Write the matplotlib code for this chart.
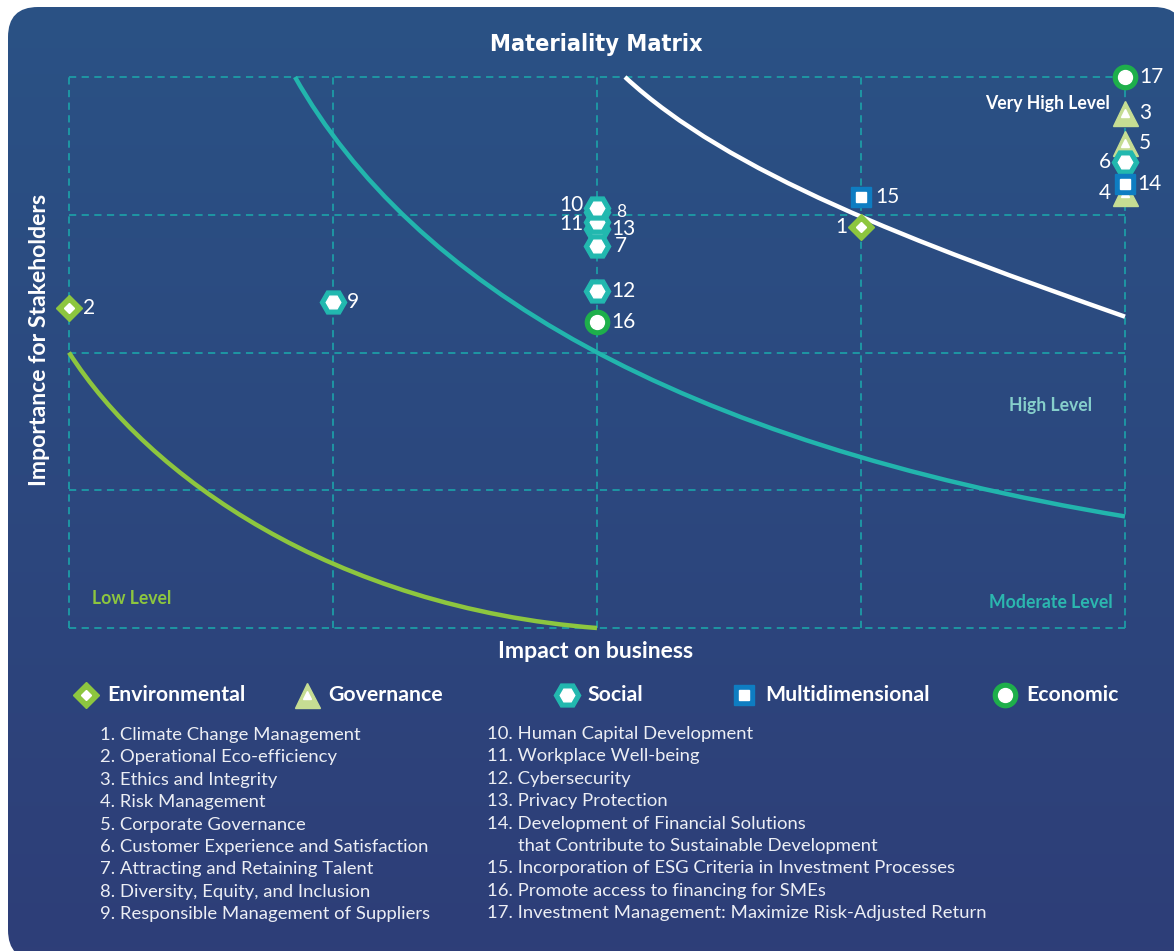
import numpy as np
import matplotlib
matplotlib.use('Agg')
import matplotlib.pyplot as plt
from matplotlib.patches import FancyBboxPatch, PathPatch
from matplotlib.path import Path

plt.rcParams['font.family'] = ['Lato', 'DejaVu Sans']

# material topics: impact on business (x) vs importance for stakeholders (y)
topic_ids = list(range(1, 18))
impact = [3, 0, 4, 4, 4, 4, 2, 2, 1, 2, 2, 2, 2, 4, 3, 2, 4]
importance = [2.91, 2.32, 3.74, 3.16, 3.52, 3.38, 2.77, 3.02, 2.37,
              3.05, 2.95, 2.45, 2.90, 3.22, 3.13, 2.22, 4.00]
category = ['Environmental', 'Environmental', 'Governance', 'Governance',
            'Governance', 'Social', 'Social', 'Social', 'Social', 'Social',
            'Social', 'Social', 'Social', 'Multidimensional',
            'Multidimensional', 'Economic', 'Economic']
topic_names = [
    'Climate Change Management',
    'Operational Eco-efficiency',
    'Ethics and Integrity',
    'Risk Management',
    'Corporate Governance',
    'Customer Experience and Satisfaction',
    'Attracting and Retaining Talent',
    'Diversity, Equity, and Inclusion',
    'Responsible Management of Suppliers',
    'Human Capital Development',
    'Workplace Well-being',
    'Cybersecurity',
    'Privacy Protection',
    'Development of Financial Solutions\nthat Contribute to Sustainable Development',
    'Incorporation of ESG Criteria in Investment Processes',
    'Promote access to financing for SMEs',
    'Investment Management: Maximize Risk-Adjusted Return',
]
legend_order = ['Environmental', 'Governance', 'Social', 'Multidimensional', 'Economic']

# level boundaries as cubic bezier control points (data units)
low_curve = [(0.0, 2.0), (0.3, 1.1), (1.0, 0.15), (2.0, 0.0)]
mid_curve = [(0.856, 4.0), (1.3, 2.5), (2.3, 1.35), (4.0, 0.81)]
high_curve = [(2.106, 4.0), (2.5, 3.3), (3.2, 2.8), (4.0, 2.26)]

# marker styles per category: outer marker, size, colour, inner marker, size
styles = {
    'Environmental': ('D', 13, '#8DC63F', 'D', 5.5),
    'Governance': ('^', 18, '#C6DD93', '^', 5.5),
    'Social': ('H', 19, '#22B8AF', 'H', 10.5),
    'Multidimensional': ('s', 15, '#0E7DC2', 's', 6.5),
    'Economic': ('o', 17.5, '#1EAF4B', 'o', 10),
}

# which side each number sits on, and its offset in points
label_left = {1, 4, 6, 10, 11}
label_dx = {8: 14, 7: 13, 13: 10, 16: 10, 12: 10, 14: 9}
label_dy = {10: 2.0, 11: -1.5}
label_size = {8: 12.5}
draw_order = [2, 9, 1, 15, 16, 12, 8, 13, 11, 10, 7, 4, 5, 6, 14, 3, 17]

W, H = 1174, 951
fig = plt.figure(figsize=(W / 100, H / 100), dpi=100)
fig.patch.set_facecolor('white')

# rounded gradient background
bg = fig.add_axes([0, 0, 1, 1])
bg.set_xlim(0, W)
bg.set_ylim(H, 0)
bg.axis('off')
top = np.array([42, 82, 133]) / 255
bot = np.array([46, 62, 120]) / 255
t = np.linspace(0, 1, 256)[:, None, None]
grad = top * (1 - t) + bot * t
grad = np.repeat(grad, 2, axis=1)
im = bg.imshow(grad, extent=(0, W, H, 0), aspect='auto', zorder=0)
box = FancyBboxPatch((8, 7), W + 2, H + 2, boxstyle='round,pad=0,rounding_size=30',
                     transform=bg.transData, facecolor='none', edgecolor='none')
bg.add_patch(box)
im.set_clip_path(box)

ax = fig.add_axes([69 / W, 1 - 628 / H, (1125 - 69) / W, (628 - 77) / H])
ax.patch.set_alpha(0)
ax.set_xlim(0, 4)
ax.set_ylim(0, 4)
for s in ax.spines.values():
    s.set_visible(False)
ax.set_xticks([])
ax.set_yticks([])

grid_c = '#1D9CA6'
for v in range(5):
    ax.plot([v, v], [0, 4], color=grid_c, lw=1.3, ls=(0, (4, 3)), zorder=1, clip_on=False)
    ax.plot([0, 4], [v, v], color=grid_c, lw=1.3, ls=(0, (4, 3)), zorder=1, clip_on=False)

codes = [Path.MOVETO, Path.CURVE4, Path.CURVE4, Path.CURVE4]
for pts, col in [(low_curve, '#8DC63F'), (mid_curve, '#22B5AD'), (high_curve, '#FFFFFF')]:
    ax.add_patch(PathPatch(Path(pts, codes), facecolor='none', edgecolor=col,
                           lw=3.2, zorder=2, clip_on=False, capstyle='butt'))


def put_marker(a, x, y, cat, z):
    om, osz, col, im_, isz = styles[cat]
    a.plot([x], [y], marker=om, ms=osz, color=col, mec=col, ls='none', zorder=z, clip_on=False)
    a.plot([x], [y], marker=im_, ms=isz, color='white', mec='white', ls='none',
           zorder=z + 0.5, clip_on=False)


for k, tid in enumerate(draw_order):
    i = topic_ids.index(tid)
    put_marker(ax, impact[i], importance[i], category[i], 5 + k)
    dy = label_dy.get(tid, 0)
    if tid in label_left:
        ax.annotate(str(tid), (impact[i], importance[i]), xytext=(-10, dy),
                    textcoords='offset points', ha='right', va='center',
                    color='white', fontsize=15, zorder=40)
    else:
        ax.annotate(str(tid), (impact[i], importance[i]), xytext=(label_dx.get(tid, 10), dy),
                    textcoords='offset points', ha='left', va='center',
                    color='white', fontsize=label_size.get(tid, 15), zorder=40)

# level names
ax.text(1110, 103, 'Very High Level', transform=bg.transData, ha='right', va='center',
        color='white', fontsize=12.7, fontweight='bold')
ax.text(1092, 406, 'High Level', transform=bg.transData, ha='right', va='center',
        color='#86CFCB', fontsize=12.7, fontweight='bold')
ax.text(1113, 603, 'Moderate Level', transform=bg.transData, ha='right', va='center',
        color='#2BB7AF', fontsize=12.7, fontweight='bold')
ax.text(92, 598, 'Low Level', transform=bg.transData, ha='left', va='center',
        color='#8DC63F', fontsize=12.7, fontweight='bold')

# titles
bg.text(596, 45, 'Materiality Matrix', ha='center', va='center', color='white',
        fontsize=16.8, fontweight='bold', fontstretch='condensed',
        family=['DejaVu Sans'])
bg.text(596, 652, 'Impact on business', ha='center', va='center', color='white',
        fontsize=16.6, fontweight='bold')
bg.text(40, 340, 'Importance for Stakeholders', ha='center', va='center', color='white',
        fontsize=16.6, fontweight='bold', rotation=90)

# legend row
legend_x = [86, 307, 567, 744, 1005]
for lx, cat in zip(legend_x, legend_order):
    put_marker(bg, lx, 695, cat, 5)
    bg.text(lx + 21, 695, cat, ha='left', va='center', color='white',
            fontsize=15.3, fontweight='bold')

# numbered topic list in two columns
for col, (x0, y0, ids) in enumerate([(100, 735, topic_ids[:9]), (487, 734, topic_ids[9:])]):
    line = 0
    for tid in ids:
        parts = topic_names[tid - 1].split('\n')
        bg.text(x0, y0 + line * 22.4, f'{tid}. {parts[0]}', ha='left', va='center',
                color='#ECEEF4', fontsize=13.3)
        line += 1
        for extra in parts[1:]:
            bg.text(x0 + 31, y0 + line * 22.4, extra, ha='left', va='center',
                    color='#ECEEF4', fontsize=13.3)
            line += 1

fig.savefig('out.png', dpi=100)
